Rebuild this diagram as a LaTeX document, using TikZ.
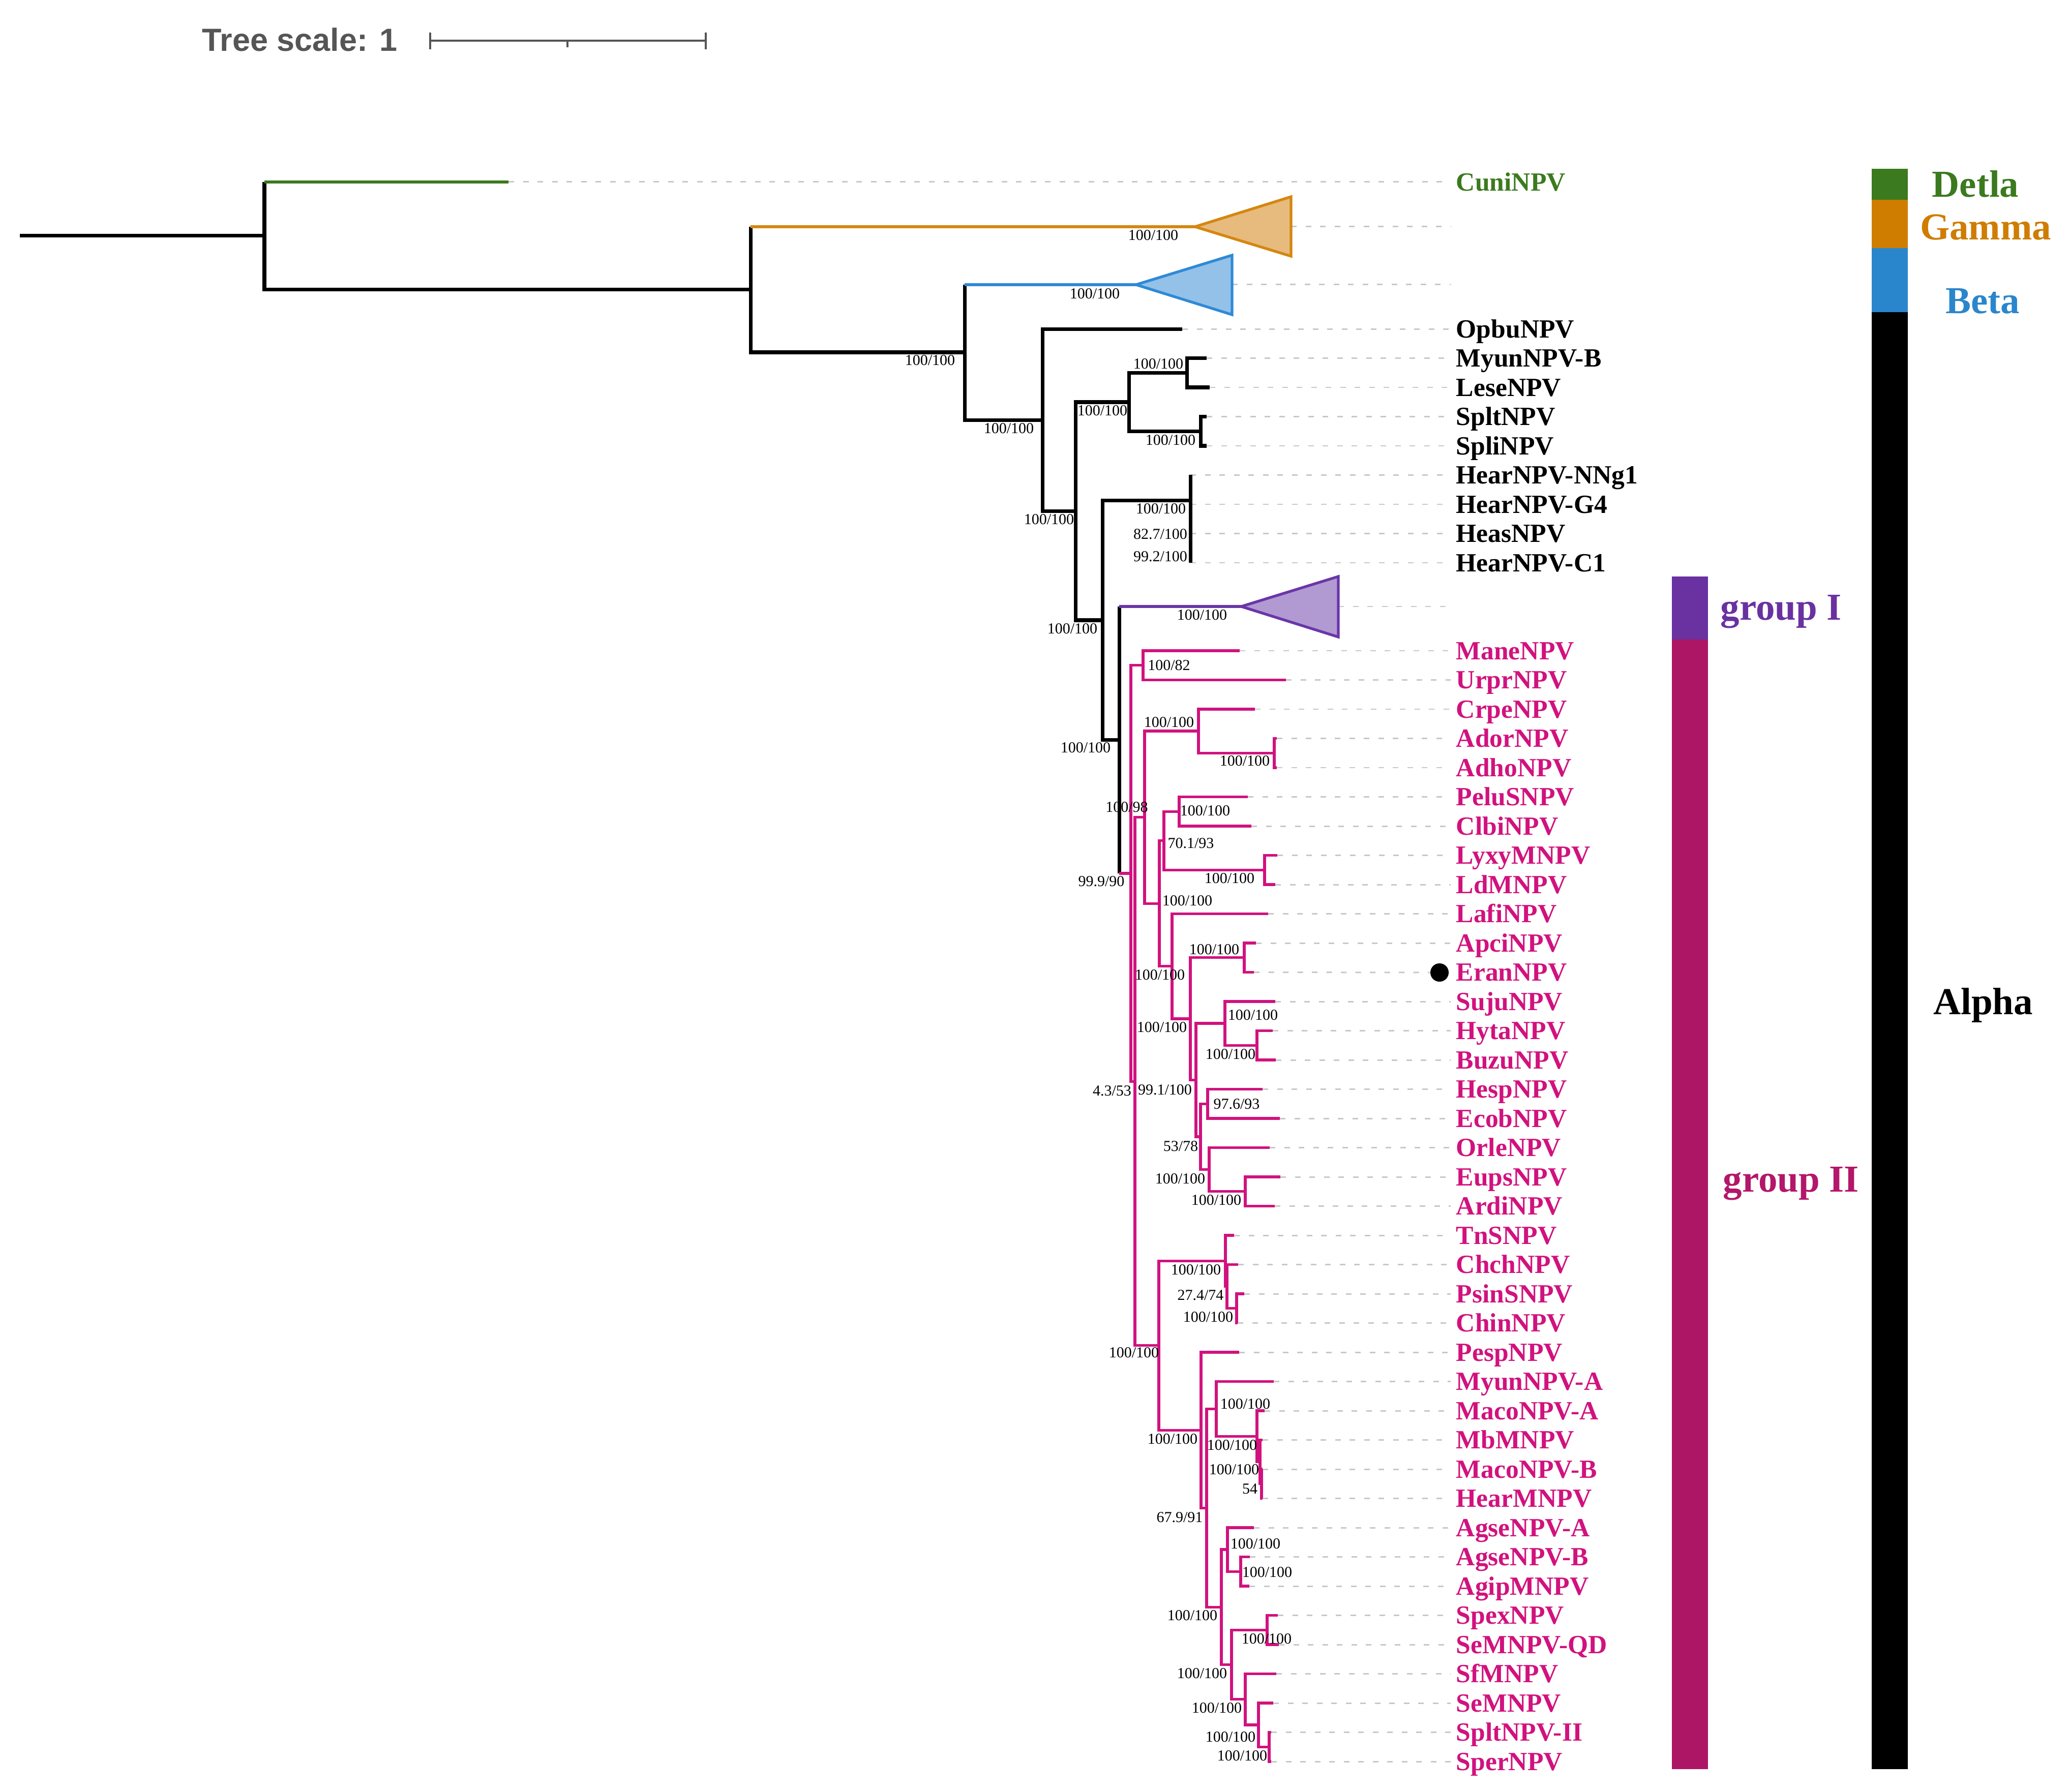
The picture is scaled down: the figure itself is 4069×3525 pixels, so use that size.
\documentclass[tikz,border=0pt]{standalone}
\usepackage{fontspec}
\setmainfont{Liberation Serif}
\newfontfamily\phSansFam{Liberation Sans}
\usetikzlibrary{calc}
\definecolor{grn}{HTML}{3B7A1E}
\definecolor{org}{HTML}{D4870F}
\definecolor{orgfill}{HTML}{E7BA7E}
\definecolor{orgbar}{HTML}{CF7D00}
\definecolor{blu}{HTML}{2E8AD6}
\definecolor{blufill}{HTML}{93C1E8}
\definecolor{blubar}{HTML}{2A86CC}
\definecolor{pur}{HTML}{6A36A8}
\definecolor{purfill}{HTML}{B199D2}
\definecolor{purbar}{HTML}{6A31A0}
\definecolor{pinkc}{HTML}{D1127E}
\definecolor{magbar}{HTML}{AD1665}
\definecolor{grptwo}{HTML}{B3166A}
\definecolor{guidec}{HTML}{C8C8C8}
\definecolor{scalegray}{HTML}{555555}
\newcommand\phLeaf{\fontsize{14.68pt}{17pt}\selectfont\bfseries}
\newcommand\phBs{\fontsize{8.54pt}{10pt}\selectfont}
\newcommand\phBig{\fontsize{21.3pt}{25pt}\selectfont\bfseries}
\newcommand\phScale{\phSansFam\fontsize{17.9pt}{20pt}\selectfont\bfseries}
\tikzset{
  br/.style={line width=2pt, draw=black, line join=miter},
  pbr/.style={line width=1.5pt, draw=pinkc, line join=miter},
  cbr/.style={line width=1.5pt, draw=#1},
  guide/.style={line width=0.85pt, draw=guidec, dash pattern=on 0.11cm off 0.175cm},
  leafb/.style={anchor=west, inner sep=0.1cm, font=\phLeaf, text=black, text height=0.341cm, text depth=0pt},
  leafp/.style={leafb, text=pinkc},
  leafg/.style={leafb, text=grn},
  bs/.style={inner sep=0pt, font=\phBs, text=black, text height=0.203cm, text depth=0pt},
  big/.style={inner sep=0pt, font=\phBig, text height=0.496cm, text depth=0pt},
  tri/.style={line width=1.5pt, draw=#1, line join=miter}
}
\newcommand\phLeafNode[5]{\coordinate (t#1) at (#2,#3); \node[#5] (l#1) at (2853,#3) {#4}; \draw[guide] (t#1) -- (l#1.west);}
\begin{document}
\begin{tikzpicture}[x=0.01cm,y=-0.01cm]
\useasboundingbox (0,0) rectangle (4069,3525);
\fill[white] (0,0) rectangle (4069,3525);

% ---------- tree scale ----------
\node[anchor=west, inner sep=0pt, font=\phScale, text=scalegray, text height=0.45cm, text depth=0pt] (tsText) at (397,78) {Tree scale: 1};
\coordinate (sbL) at (846,80);
\coordinate (sbR) at (1388,80);
\coordinate (sbM) at (1116,80);
\draw[line width=1.4pt, scalegray] (sbL) -- (sbR);
\draw[line width=1.4pt, scalegray] ($(sbL)+(0,-16)$) -- ($(sbL)+(0,17)$);
\draw[line width=1.4pt, scalegray] ($(sbR)+(0,-16)$) -- ($(sbR)+(0,17)$);
\draw[line width=1.2pt, scalegray] (sbM) -- ($(sbM)+(0,13)$);

% ---------- leaves ----------
\phLeafNode{Cuni}{1000}{358}{CuniNPV}{leafg}
\phLeafNode{Opbu}{2325}{647.5}{OpbuNPV}{leafb}
\phLeafNode{MyunB}{2373}{704.5}{MyunNPV-B}{leafb}
\phLeafNode{Lese}{2379}{762}{LeseNPV}{leafb}
\phLeafNode{Splt}{2373}{819.5}{SpltNPV}{leafb}
\phLeafNode{Spli}{2373}{877}{SpliNPV}{leafb}
\phLeafNode{NNg}{2341}{934.5}{HearNPV-NNg1}{leafb}
\phLeafNode{GFour}{2341}{992}{HearNPV-G4}{leafb}
\phLeafNode{Heas}{2341}{1049.5}{HeasNPV}{leafb}
\phLeafNode{CFirst}{2341}{1107}{HearNPV-C1}{leafb}
\phLeafNode{Mane}{2438}{1280}{ManeNPV}{leafp}
\phLeafNode{Urpr}{2529}{1337.5}{UrprNPV}{leafp}
\phLeafNode{Crpe}{2468}{1395}{CrpeNPV}{leafp}
\phLeafNode{Ador}{2511}{1452.5}{AdorNPV}{leafp}
\phLeafNode{Adho}{2511}{1510}{AdhoNPV}{leafp}
\phLeafNode{Pelu}{2454}{1567.5}{PeluSNPV}{leafp}
\phLeafNode{Clbi}{2461}{1625}{ClbiNPV}{leafp}
\phLeafNode{Lyxy}{2512}{1682.5}{LyxyMNPV}{leafp}
\phLeafNode{Ld}{2508}{1740}{LdMNPV}{leafp}
\phLeafNode{Lafi}{2494}{1797.5}{LafiNPV}{leafp}
\phLeafNode{Apci}{2470}{1855}{ApciNPV}{leafp}
\coordinate (tEran) at (2466,1912.5);
\node[leafp] (lEran) at (2853,1912.5) {EranNPV};
\node[circle, fill=black, minimum size=0.36cm, inner sep=0pt] (dotEran) at (2831,1913) {};
\draw[guide] (tEran) -- (dotEran.west);
\phLeafNode{Suju}{2508}{1970}{SujuNPV}{leafp}
\phLeafNode{Hyta}{2503}{2027.5}{HytaNPV}{leafp}
\phLeafNode{Buzu}{2509}{2085}{BuzuNPV}{leafp}
\phLeafNode{Hesp}{2483}{2142.5}{HespNPV}{leafp}
\phLeafNode{Ecob}{2517}{2200}{EcobNPV}{leafp}
\phLeafNode{Orle}{2497}{2257.5}{OrleNPV}{leafp}
\phLeafNode{Eups}{2518}{2315}{EupsNPV}{leafp}
\phLeafNode{Ardi}{2507}{2372.5}{ArdiNPV}{leafp}
\phLeafNode{TnS}{2427}{2430}{TnSNPV}{leafp}
\phLeafNode{Chch}{2435}{2487.5}{ChchNPV}{leafp}
\phLeafNode{Psin}{2447}{2545}{PsinSNPV}{leafp}
\phLeafNode{Chin}{2434}{2602.5}{ChinNPV}{leafp}
\phLeafNode{Pesp}{2437}{2660}{PespNPV}{leafp}
\phLeafNode{MyunA}{2505}{2717.5}{MyunNPV-A}{leafp}
\phLeafNode{MacoA}{2487}{2775}{MacoNPV-A}{leafp}
\phLeafNode{Mb}{2483}{2832.5}{MbMNPV}{leafp}
\phLeafNode{MacoB}{2483}{2890}{MacoNPV-B}{leafp}
\phLeafNode{HearM}{2483}{2947.5}{HearMNPV}{leafp}
\phLeafNode{AgseA}{2466}{3005}{AgseNPV-A}{leafp}
\phLeafNode{AgseB}{2458}{3062.5}{AgseNPV-B}{leafp}
\phLeafNode{Agip}{2457}{3120}{AgipMNPV}{leafp}
\phLeafNode{Spex}{2513}{3177.5}{SpexNPV}{leafp}
\phLeafNode{SeQD}{2515}{3235}{SeMNPV-QD}{leafp}
\phLeafNode{Sf}{2510}{3292.5}{SfMNPV}{leafp}
\phLeafNode{Se}{2504}{3350}{SeMNPV}{leafp}
\phLeafNode{SpltII}{2500}{3407.5}{SpltNPV-II}{leafp}
\phLeafNode{Sper}{2500}{3465}{SperNPV}{leafp}

% ---------- collapsed clades ----------
\coordinate (tGam) at (2350,446);
\coordinate (gamTop) at (2539,387);
\coordinate (gamBot) at (2539,504);
\coordinate (gamR) at (2539,446);
\coordinate (gamEnd) at (2853,446);
\draw[guide] (gamR) -- (gamEnd);
\draw[tri=org, fill=orgfill] (tGam) -- (gamTop) -- (gamBot) -- cycle;

\coordinate (tBeta) at (2234,560);
\coordinate (betTop) at (2423,502);
\coordinate (betBot) at (2423,619);
\coordinate (betR) at (2423,560);
\coordinate (betEnd) at (2853,560);
\draw[guide] (betR) -- (betEnd);
\draw[tri=blu, fill=blufill] (tBeta) -- (betTop) -- (betBot) -- cycle;

\coordinate (tGrpI) at (2441,1193);
\coordinate (gOneTop) at (2632,1134);
\coordinate (gOneBot) at (2632,1253);
\coordinate (gOneR) at (2632,1193);
\coordinate (gOneEnd) at (2853,1193);
\draw[guide] (gOneR) -- (gOneEnd);
\draw[tri=pur, fill=purfill] (tGrpI) -- (gOneTop) -- (gOneBot) -- cycle;

% ---------- internal nodes ----------
\coordinate (root) at (39,463.7);
\coordinate (nA) at (520,463.7);
\coordinate (nB) at (1476,569.5);
\coordinate (nC) at (1897,693);
\coordinate (nD) at (2050,826.5);
\coordinate (nE) at (2115,1005.5);
\coordinate (nF) at (2220,791);
\coordinate (nG) at (2334,733.5);
\coordinate (nH) at (2361,848.5);
\coordinate (nI) at (2168,1220);
\coordinate (nJ) at (2341,984.6);
\coordinate (nJb) at (2341,1035.3);
\coordinate (nJc) at (2341,1078.3);
\coordinate (nK) at (2201,1455.5);
\coordinate (nL) at (2224,1718);
\coordinate (nN) at (2248,1308.75);
\coordinate (nM) at (2232,2127.2);
\coordinate (nO) at (2251,1607.7);
\coordinate (nP) at (2357,1438.1);
\coordinate (nR) at (2506,1481.25);
\coordinate (nQ) at (2280,1777.3);
\coordinate (nU) at (2289,1653.75);
\coordinate (nS) at (2319,1596.25);
\coordinate (nT) at (2487,1711.25);
\coordinate (nV) at (2305,1900.8);
\coordinate (nW) at (2341,2004.1);
\coordinate (nX) at (2447,1883.75);
\coordinate (nZ) at (2352,2124.5);
\coordinate (nAA) at (2409,2013.1);
\coordinate (nAB) at (2472,2056.25);
\coordinate (nAC) at (2361,2235.9);
\coordinate (nAD) at (2375,2171.25);
\coordinate (nAF) at (2378,2300.6);
\coordinate (nAG) at (2449,2343.75);
\coordinate (nAE) at (2279,2646.8);
\coordinate (nAH) at (2410,2480.3);
\coordinate (nAJ) at (2413,2530.6);
\coordinate (nAI) at (2432,2573.75);
\coordinate (nAK) at (2362,2813.2);
\coordinate (nAL) at (2373,2966.4);
\coordinate (nAM) at (2392,2771.4);
\coordinate (nAN) at (2472,2825.3);
\coordinate (nAO) at (2478,2875.6);
\coordinate (nAP) at (2481,2918.75);
\coordinate (nAS) at (2402,3161.3);
\coordinate (nAQ) at (2414,3048.1);
\coordinate (nAR) at (2440,3091.25);
\coordinate (nAT) at (2422,3274.5);
\coordinate (nAU) at (2492,3206.25);
\coordinate (nAV) at (2449,3342.8);
\coordinate (nAW) at (2475,3393.1);
\coordinate (nAX) at (2496,3436.25);

% ---------- black branches ----------
\draw[br] (root) -- (nA);
\draw[br] (nA) -- (nA |- tCuni);
\draw[cbr=grn] (nA |- tCuni) -- (tCuni);
\draw[br] (nA) |- (nB);
\draw[br] (nB) -- (nB |- tGam);
\draw[cbr=org] (nB |- tGam) -- (tGam);
\draw[br] (nB) |- (nC);
\draw[br] (nC) -- (nC |- tBeta);
\draw[cbr=blu] (nC |- tBeta) -- (tBeta);
\draw[br] (nC) |- (nD);
\draw[br] (nD) |- (tOpbu);
\draw[br] (nD) |- (nE);
\draw[br] (nE) |- (nF);
\draw[br] (nF) |- (nG);
\draw[br] (nG) |- (tMyunB);
\draw[br] (nG) |- (tLese);
\draw[br] (nF) |- (nH);
\draw[br] (nH) |- (tSplt);
\draw[br] (nH) |- (tSpli);
\draw[br] (nE) |- (nI);
\draw[br] (nI) |- (nJ);
\draw[br] (nJ) |- (tNNg);
\draw[br] (nJ) |- (nJb);
\draw[br] (nJb) |- (tGFour);
\draw[br] (nJb) |- (nJc);
\draw[br] (nJc) |- (tHeas);
\draw[br] (nJc) |- (tCFirst);
\draw[br] (nI) |- (nK);
\draw[br] (nK) -- (nK |- tGrpI);
\draw[cbr=pur] (nK |- tGrpI) -- (tGrpI);
\draw[br] (nK) -- (nK |- nL);
\draw[pbr] (nK |- nL) -- (nL);

% ---------- group II branches ----------
\draw[pbr] (nL) |- (nN);
\draw[pbr] (nN) |- (tMane);
\draw[pbr] (nN) |- (tUrpr);
\draw[pbr] (nL) |- (nM);
\draw[pbr] (nM) |- (nO);
\draw[pbr] (nO) |- (nP);
\draw[pbr] (nP) |- (tCrpe);
\draw[pbr] (nP) |- (nR);
\draw[pbr] (nR) |- (tAdor);
\draw[pbr] (nR) |- (tAdho);
\draw[pbr] (nO) |- (nQ);
\draw[pbr] (nQ) |- (nU);
\draw[pbr] (nU) |- (nS);
\draw[pbr] (nS) |- (tPelu);
\draw[pbr] (nS) |- (tClbi);
\draw[pbr] (nU) |- (nT);
\draw[pbr] (nT) |- (tLyxy);
\draw[pbr] (nT) |- (tLd);
\draw[pbr] (nQ) |- (nV);
\draw[pbr] (nV) |- (tLafi);
\draw[pbr] (nV) |- (nW);
\draw[pbr] (nW) |- (nX);
\draw[pbr] (nX) |- (tApci);
\draw[pbr] (nX) |- (tEran);
\draw[pbr] (nW) |- (nZ);
\draw[pbr] (nZ) |- (nAA);
\draw[pbr] (nAA) |- (tSuju);
\draw[pbr] (nAA) |- (nAB);
\draw[pbr] (nAB) |- (tHyta);
\draw[pbr] (nAB) |- (tBuzu);
\draw[pbr] (nZ) |- (nAC);
\draw[pbr] (nAC) |- (nAD);
\draw[pbr] (nAD) |- (tHesp);
\draw[pbr] (nAD) |- (tEcob);
\draw[pbr] (nAC) |- (nAF);
\draw[pbr] (nAF) |- (tOrle);
\draw[pbr] (nAF) |- (nAG);
\draw[pbr] (nAG) |- (tEups);
\draw[pbr] (nAG) |- (tArdi);
\draw[pbr] (nM) |- (nAE);
\draw[pbr] (nAE) |- (nAH);
\draw[pbr] (nAH) |- (tTnS);
\draw[pbr] (nAH) |- (nAJ);
\draw[pbr] (nAJ) |- (tChch);
\draw[pbr] (nAJ) |- (nAI);
\draw[pbr] (nAI) |- (tPsin);
\draw[pbr] (nAI) |- (tChin);
\draw[pbr] (nAE) |- (nAK);
\draw[pbr] (nAK) |- (tPesp);
\draw[pbr] (nAK) |- (nAL);
\draw[pbr] (nAL) |- (nAM);
\draw[pbr] (nAM) |- (tMyunA);
\draw[pbr] (nAM) |- (nAN);
\draw[pbr] (nAN) |- (tMacoA);
\draw[pbr] (nAN) |- (nAO);
\draw[pbr] (nAO) |- (tMb);
\draw[pbr] (nAO) |- (nAP);
\draw[pbr] (nAP) |- (tMacoB);
\draw[pbr] (nAP) |- (tHearM);
\draw[pbr] (nAL) |- (nAS);
\draw[pbr] (nAS) |- (nAQ);
\draw[pbr] (nAQ) |- (tAgseA);
\draw[pbr] (nAQ) |- (nAR);
\draw[pbr] (nAR) |- (tAgseB);
\draw[pbr] (nAR) |- (tAgip);
\draw[pbr] (nAS) |- (nAT);
\draw[pbr] (nAT) |- (nAU);
\draw[pbr] (nAU) |- (tSpex);
\draw[pbr] (nAU) |- (tSeQD);
\draw[pbr] (nAT) |- (nAV);
\draw[pbr] (nAV) |- (tSf);
\draw[pbr] (nAV) |- (nAW);
\draw[pbr] (nAW) |- (tSe);
\draw[pbr] (nAW) |- (nAX);
\draw[pbr] (nAX) |- (tSpltII);
\draw[pbr] (nAX) |- (tSper);

% ---------- support values ----------
\node[bs] (b01) at (2268,462) {100/100};
\node[bs] (b02) at (1829,708) {100/100};
\node[bs] (b03) at (2153,577) {100/100};
\node[bs] (b04) at (1984,842) {100/100};
\node[bs] (b05) at (2063,1021) {100/100};
\node[bs] (b06) at (2168,807) {100/100};
\node[bs] (b07) at (2278,715) {100/100};
\node[bs] (b08) at (2302,865) {100/100};
\node[bs] (b09) at (2283,1000) {100/100};
\node[bs] (b10) at (2282,1050) {82.7/100};
\node[bs] (b11) at (2282,1094) {99.2/100};
\node[bs] (b12) at (2109,1236) {100/100};
\node[bs] (b13) at (2364,1209) {100/100};
\node[bs] (b14) at (2135,1470) {100/100};
\node[bs] (b15) at (2166,1733) {99.9/90};
\node[bs] (b16) at (2299,1308) {100/82};
\node[bs] (b17) at (2216,1587) {100/98};
\node[bs] (b18) at (2299,1420) {100/100};
\node[bs] (b19) at (2448,1496) {100/100};
\node[bs] (b20) at (2370,1594) {100/100};
\node[bs] (b21) at (2342,1658) {70.1/93};
\node[bs] (b22) at (2418,1727) {100/100};
\node[bs] (b23) at (2335,1771) {100/100};
\node[bs] (b24) at (2281,1917) {100/100};
\node[bs] (b25) at (2285,2020) {100/100};
\node[bs] (b26) at (2388,1867) {100/100};
\node[bs] (b27) at (2291,2143) {99.1/100};
\node[bs] (b28) at (2187,2145) {4.3/53};
\node[bs] (b29) at (2464,1996) {100/100};
\node[bs] (b30) at (2420,2073) {100/100};
\node[bs] (b31) at (2432,2171) {97.6/93};
\node[bs] (b32) at (2322,2254) {53/78};
\node[bs] (b33) at (2321,2318) {100/100};
\node[bs] (b34) at (2392,2360) {100/100};
\node[bs] (b35) at (2230,2660) {100/100};
\node[bs] (b36) at (2352,2497) {100/100};
\node[bs] (b37) at (2361,2547) {27.4/74};
\node[bs] (b38) at (2376,2590) {100/100};
\node[bs] (b39) at (2306,2830) {100/100};
\node[bs] (b40) at (2320,2984) {67.9/91};
\node[bs] (b41) at (2449,2761) {100/100};
\node[bs] (b42) at (2423,2842) {100/100};
\node[bs] (b43) at (2427,2890) {100/100};
\node[bs] (b44) at (2458,2928) {54};
\node[bs] (b45) at (2469,3036) {100/100};
\node[bs] (b46) at (2492,3092) {100/100};
\node[bs] (b47) at (2345,3177) {100/100};
\node[bs] (b48) at (2364,3291) {100/100};
\node[bs] (b49) at (2491,3223) {100/100};
\node[bs] (b50) at (2393,3359) {100/100};
\node[bs] (b51) at (2420,3416) {100/100};
\node[bs] (b52) at (2443,3453) {100/100};

% ---------- classification bars ----------
\fill[purbar] (3288,1134) rectangle (3359,1258);
\fill[magbar] (3288,1258) rectangle (3359,3480);
\fill[grn] (3681,332) rectangle (3752,393);
\fill[orgbar] (3681,393) rectangle (3752,488);
\fill[blubar] (3681,488) rectangle (3752,614);
\fill[black] (3681,614) rectangle (3752,3480);

\node[big, text=grn] (lDetla) at (3885,363) {Detla};
\node[big, text=orgbar] (lGamma) at (3905,447) {Gamma};
\node[big, text=blubar] (lBeta) at (3899,592) {Beta};
\node[big, text=black] (lAlpha) at (3900,1971) {Alpha};
\node[big, text=purbar, anchor=west] (lGroupI) at (3383,1195) {group I};
\node[big, text=grptwo, anchor=west] (lGroupII) at (3388,2320) {group II};
\end{tikzpicture}
\end{document}
